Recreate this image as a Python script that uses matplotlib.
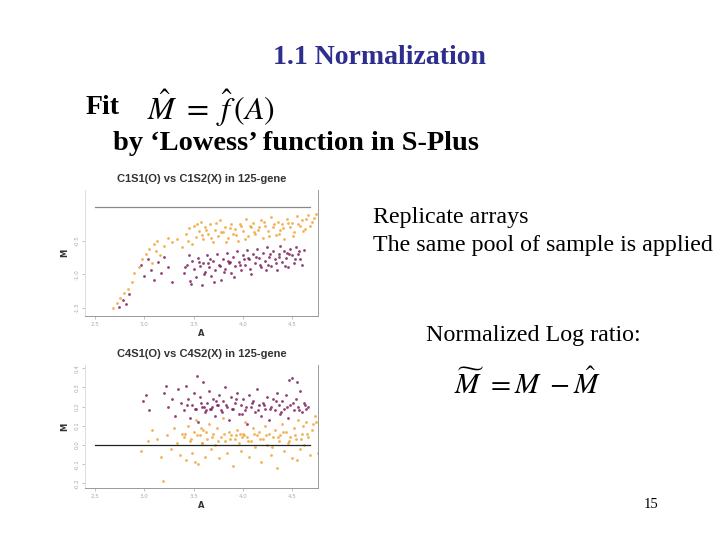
import matplotlib
matplotlib.use("Agg")
import matplotlib.pyplot as plt

plt.rcParams['mathtext.fontset'] = 'stix'

# --- data (A, M) ---
# top panel: C1S1(O) vs C1S2(X)
top_orange_A = [2.68, 2.72, 2.75, 2.80, 2.84, 2.88, 2.90, 2.95, 2.98, 3.02, 3.05, 3.08, 3.10, 3.13, 3.16, 3.20, 3.24, 3.28,
                3.42, 3.45, 3.48, 3.50, 3.52, 3.55, 3.57, 3.60, 3.62, 3.65, 3.67, 3.70, 3.72, 3.75, 3.77, 3.80, 3.82, 3.85,
                3.88, 3.90, 3.92, 3.95, 3.98, 4.00, 4.03, 4.05, 4.08, 4.10, 4.12, 4.15, 4.18, 4.20, 4.22, 4.25, 4.28, 4.30,
                4.33, 4.35, 4.38, 4.40, 4.42, 4.45, 4.48, 4.50, 4.52, 4.55, 4.58, 4.60, 4.63, 4.66, 4.70, 4.74,
                3.44, 3.53, 3.58, 3.63, 3.68, 3.73, 3.78, 3.83, 3.87, 3.93, 3.97, 4.02, 4.07, 4.11, 4.16, 4.21, 4.26, 4.31,
                4.36, 4.41, 4.46, 4.51, 4.56, 4.61, 4.64, 4.68, 4.72, 3.33, 3.38, 3.12]
top_orange_M = [-1.50, -1.42, -1.35, -1.28, -1.22, -1.12, -0.98, -0.90, -0.78, -0.70, -0.62, -0.84, -0.55, -0.50, -0.72, -0.58, -0.46, -0.52,
                -0.40, -0.32, -0.55, -0.28, -0.45, -0.36, -0.22, -0.48, -0.30, -0.40, -0.26, -0.52, -0.35, -0.44, -0.20, -0.38, -0.30, -0.46,
                -0.25, -0.40, -0.33, -0.50, -0.28, -0.36, -0.18, -0.44, -0.30, -0.24, -0.40, -0.34, -0.20, -0.46, -0.28, -0.36, -0.15, -0.30,
                -0.42, -0.22, -0.34, -0.26, -0.48, -0.18, -0.30, -0.24, -0.38, -0.14, -0.28, -0.20, -0.33, -0.12, -0.22, -0.10,
                -0.50, -0.26, -0.42, -0.34, -0.46, -0.24, -0.38, -0.52, -0.32, -0.42, -0.26, -0.48, -0.28, -0.38, -0.30, -0.22, -0.44, -0.26,
                -0.40, -0.32, -0.24, -0.44, -0.26, -0.36, -0.18, -0.28, -0.16, -0.48, -0.60, -0.66]
top_purple_A = [2.74, 2.78, 2.82, 2.85,
                2.97, 3.00, 3.04, 3.07, 3.10, 3.14, 3.17, 3.20, 3.24, 3.28,
                3.40, 3.43, 3.46, 3.48, 3.50, 3.52, 3.54, 3.56, 3.58, 3.60, 3.62, 3.64, 3.66, 3.68, 3.70, 3.72, 3.74, 3.76,
                3.78, 3.80, 3.82, 3.84, 3.86, 3.88, 3.90, 3.92, 3.94, 3.96, 3.98, 4.00, 4.02, 4.04, 4.06, 4.08, 4.10, 4.12,
                4.14, 4.16, 4.18, 4.20, 4.22, 4.24, 4.26, 4.28, 4.30, 4.32, 4.34, 4.36, 4.38, 4.40, 4.42, 4.44, 4.46, 4.48,
                4.50, 4.52, 4.54, 4.56, 4.58, 4.62,
                3.41, 3.47, 3.55, 3.61, 3.67, 3.71, 3.77, 3.81, 3.87, 3.91, 3.97, 4.01, 4.07, 4.13, 4.17, 4.23, 4.27, 4.33,
                4.37, 4.43, 4.47, 4.53, 4.57, 4.60, 3.45, 3.65, 3.85, 4.05, 4.25, 4.45]
top_purple_M = [-1.48, -1.38, -1.44, -1.30,
                -0.86, -1.02, -0.78, -0.94, -1.08, -0.82, -0.98, -0.74, -0.90, -1.12,
                -0.98, -0.86, -1.10, -0.80, -0.92, -1.04, -0.76, -0.88, -1.16, -0.84, -0.96, -0.72, -0.90, -1.02, -0.80, -0.94, -0.70, -0.86,
                -1.08, -0.78, -0.92, -0.68, -0.84, -0.98, -0.74, -0.88, -0.66, -0.82, -0.94, -0.72, -0.86, -0.64, -0.78, -1.00, -0.70, -0.84,
                -0.62, -0.76, -0.90, -0.68, -0.80, -0.60, -0.74, -0.88, -0.66, -0.78, -0.94, -0.70, -0.58, -0.82, -0.66, -0.76, -0.90, -0.62,
                -0.72, -0.84, -0.60, -0.70, -0.78, -0.64,
                -0.90, -1.14, -0.82, -1.00, -0.78, -1.12, -0.88, -0.96, -0.82, -1.04, -0.86, -0.78, -0.92, -0.74, -0.86, -0.94, -0.70, -0.84,
                -0.74, -0.88, -0.70, -0.78, -0.66, -0.86, -0.72, -0.84, -0.80, -0.76, -0.86, -0.68]

# bottom panel: C4S1(O) vs C4S2(X)
bot_purple_A = [2.99, 3.02, 3.05, 3.20, 3.24, 3.28, 3.31, 3.34, 3.37,
                3.40, 3.42, 3.44, 3.46, 3.48, 3.50, 3.52, 3.54, 3.56, 3.58, 3.60, 3.62, 3.64, 3.66, 3.68, 3.70, 3.72, 3.74,
                3.76, 3.78, 3.80, 3.82, 3.84, 3.86, 3.88, 3.90, 3.92, 3.94, 3.96, 3.98, 4.00, 4.02, 4.04, 4.06, 4.08, 4.10,
                4.12, 4.14, 4.16, 4.18, 4.20, 4.22, 4.24, 4.26, 4.28, 4.30, 4.32, 4.34, 4.36, 4.38, 4.40, 4.42, 4.44, 4.46,
                4.48, 4.50, 4.52, 4.54, 4.56, 4.58, 4.60, 4.62, 4.64,
                3.43, 3.51, 3.57, 3.63, 3.69, 3.73, 3.79, 3.83, 3.89, 3.93, 3.99, 4.03, 4.09, 4.15, 4.21, 4.27, 4.33, 4.39,
                4.45, 4.51, 4.57, 4.63, 3.53, 3.61, 3.67, 3.75, 4.47, 4.55, 3.22, 4.66]
bot_purple_M = [0.23, 0.26, 0.18, 0.27, 0.20, 0.24, 0.15, 0.29, 0.22,
                0.18, 0.31, 0.24, 0.14, 0.21, 0.27, 0.19, 0.12, 0.25, 0.20, 0.33, 0.17, 0.22, 0.28, 0.19, 0.24, 0.15, 0.21,
                0.26, 0.18, 0.23, 0.30, 0.20, 0.13, 0.25, 0.19, 0.22, 0.27, 0.16, 0.21, 0.24, 0.18, 0.11, 0.26, 0.20, 0.23,
                0.17, 0.29, 0.21, 0.15, 0.22, 0.19, 0.25, 0.13, 0.20, 0.24, 0.18, 0.27, 0.21, 0.16, 0.23, 0.19, 0.26, 0.14,
                0.21, 0.35, 0.18, 0.24, 0.20, 0.28, 0.17, 0.22, 0.19,
                0.21, 0.19, 0.22, 0.18, 0.20, 0.23, 0.17, 0.21, 0.19, 0.24, 0.16, 0.20, 0.22, 0.18, 0.21, 0.19, 0.23, 0.17,
                0.20, 0.22, 0.18, 0.21, 0.36, 0.20, 0.19, 0.21, 0.34, 0.33, 0.31, 0.20]
bot_orange_A = [2.97, 3.04, 3.08, 3.13, 3.17, 3.19, 3.23, 3.27, 3.30, 3.33, 3.36, 3.38,
                3.40, 3.42, 3.44, 3.46, 3.48, 3.50, 3.52, 3.54, 3.56, 3.58, 3.60, 3.62, 3.64, 3.66, 3.68, 3.70, 3.72, 3.74,
                3.76, 3.78, 3.80, 3.82, 3.84, 3.86, 3.88, 3.90, 3.92, 3.94, 3.96, 3.98, 4.00, 4.02, 4.04, 4.06, 4.08, 4.10,
                4.12, 4.14, 4.16, 4.18, 4.20, 4.22, 4.24, 4.26, 4.28, 4.30, 4.32, 4.34, 4.36, 4.38, 4.40, 4.42, 4.44, 4.46,
                4.48, 4.50, 4.52, 4.54, 4.56, 4.58, 4.60, 4.62, 4.64, 4.66, 4.68, 4.70, 4.73, 4.76,
                3.41, 3.47, 3.53, 3.59, 3.63, 3.69, 3.75, 3.81, 3.87, 3.93, 3.99, 4.05, 4.11, 4.17, 4.23, 4.29, 4.35, 4.41,
                4.47, 4.53, 4.59, 4.65, 4.71, 3.51, 3.57, 3.97, 4.01, 4.55, 4.61, 4.74]
bot_orange_M = [-0.03, 0.02, 0.08, 0.03, -0.06, -0.19, 0.05, -0.02, 0.09, 0.01, -0.05, 0.06,
                0.04, -0.08, 0.10, 0.02, -0.04, 0.07, 0.13, -0.10, 0.05, 0.01, 0.08, -0.06, 0.03, 0.11, -0.02, 0.06, 0.00, 0.09,
                -0.07, 0.04, 0.14, 0.02, -0.04, 0.07, 0.05, -0.11, 0.03, 0.08, 0.01, -0.03, 0.06, 0.12, 0.04, -0.06, 0.02, 0.09,
                -0.01, 0.05, 0.07, -0.09, 0.03, 0.10, 0.00, 0.06, -0.05, 0.04, 0.08, -0.12, 0.02, 0.05, 0.11, -0.03, 0.07, 0.01,
                0.04, -0.07, 0.09, 0.03, 0.13, -0.02, 0.06, 0.00, 0.12, 0.04, -0.05, 0.08, 0.15, -0.04,
                0.06, 0.03, 0.05, 0.01, 0.07, 0.04, 0.02, 0.06, 0.03, 0.05, 0.04, 0.02, 0.06, 0.03, 0.05, -0.01, 0.04, 0.07,
                0.02, 0.05, 0.03, 0.06, 0.11, -0.09, 0.09, 0.06, 0.05, -0.08, 0.10, 0.12]

x_ticks = [2.5, 3.0, 3.5, 4.0, 4.5]
top_y_ticks = [-1.5, -1.0, -0.5]
bot_y_ticks = [-0.2, -0.1, 0.0, 0.1, 0.2, 0.3, 0.4]

PURPLE = '#7b1f5c'
ORANGE = '#f0a538'
W, H = 720, 540


def px(x, y):
    return x / W, 1 - y / H


fig = plt.figure(figsize=(7.2, 5.4), dpi=100)


def panel(rect_px, title, oA, oM, pA, pM, yticks, ylim, line_color):
    l, t, r, b = rect_px
    ax = fig.add_axes([l / W, 1 - b / H, (r - l) / W, (b - t) / H])
    ax.scatter(oA, oM, s=4, color=ORANGE, linewidths=0, alpha=0.85)
    ax.scatter(pA, pM, s=4, color=PURPLE, linewidths=0, alpha=0.85)
    ax.plot([2.5, 4.68], [0, 0], color=line_color, lw=0.9)
    ax.set_xlim(2.40, 4.76)
    ax.set_ylim(*ylim)
    ax.set_xticks(x_ticks)
    ax.set_xticklabels([f'{v:.1f}' for v in x_ticks])
    ax.set_yticks(yticks)
    ax.set_yticklabels([f'{v:.1f}' for v in yticks], rotation=90, va='center')
    ax.tick_params(labelsize=4, colors='#aaaaaa', length=2, width=0.5, pad=2)
    for s in ax.spines.values():
        s.set_color('#999999')
        s.set_linewidth(0.7)
    ax.spines['top'].set_visible(False)
    ax.spines['left'].set_color('#dddddd')
    ax.set_xlabel('A', fontsize=6, fontweight='bold', color='#333333', labelpad=2)
    ax.set_ylabel('M', fontsize=6, fontweight='bold', color='#333333', labelpad=4)
    ax.set_title(title, fontsize=8, fontweight='bold', color='#333333', pad=6,
                 family='Liberation Sans')
    return ax


panel((85, 190, 318, 316), 'C1S1(O) vs C1S2(X) in 125-gene',
      top_orange_A, top_orange_M, top_purple_A, top_purple_M,
      top_y_ticks, (-1.62, 0.25), '#888888')
panel((85, 365, 318, 488), 'C4S1(O) vs C4S2(X) in 125-gene',
      bot_orange_A, bot_orange_M, bot_purple_A, bot_purple_M,
      bot_y_ticks, (-0.224, 0.417), '#222222')

serif = 'Liberation Serif'
fig.text(*px(379, 58), '1.1 Normalization', family=serif, fontweight='bold',
         fontsize=20, color='#2e2e8f', ha='center', va='center')
fig.text(*px(86, 108), 'Fit', family=serif, fontweight='bold', fontsize=20,
         ha='left', va='center')
fig.text(*px(147, 108), r'$\hat{M}\ =\ \hat{f}\,(A)$', fontsize=23,
         ha='left', va='center')
fig.text(*px(113, 143), 'by \u2018Lowess\u2019 function in S-Plus', family=serif,
         fontweight='bold', fontsize=20.4, ha='left', va='center')
fig.text(*px(373, 217), 'Replicate arrays', family=serif, fontsize=17.3,
         ha='left', va='center')
fig.text(*px(373, 246), 'The same pool of sample is applied', family=serif,
         fontsize=17.3, ha='left', va='center')
fig.text(*px(426, 336), 'Normalized Log ratio:', family=serif, fontsize=17.3,
         ha='left', va='center')
fig.text(*px(454, 384), r'$\widetilde{M}\ =M\ -\hat{M}$', fontsize=21,
         ha='left', va='center')
fig.text(*px(651, 504), '15', family=serif, fontsize=10.5, ha='center', va='center')

fig.savefig('out.png', dpi=100)
